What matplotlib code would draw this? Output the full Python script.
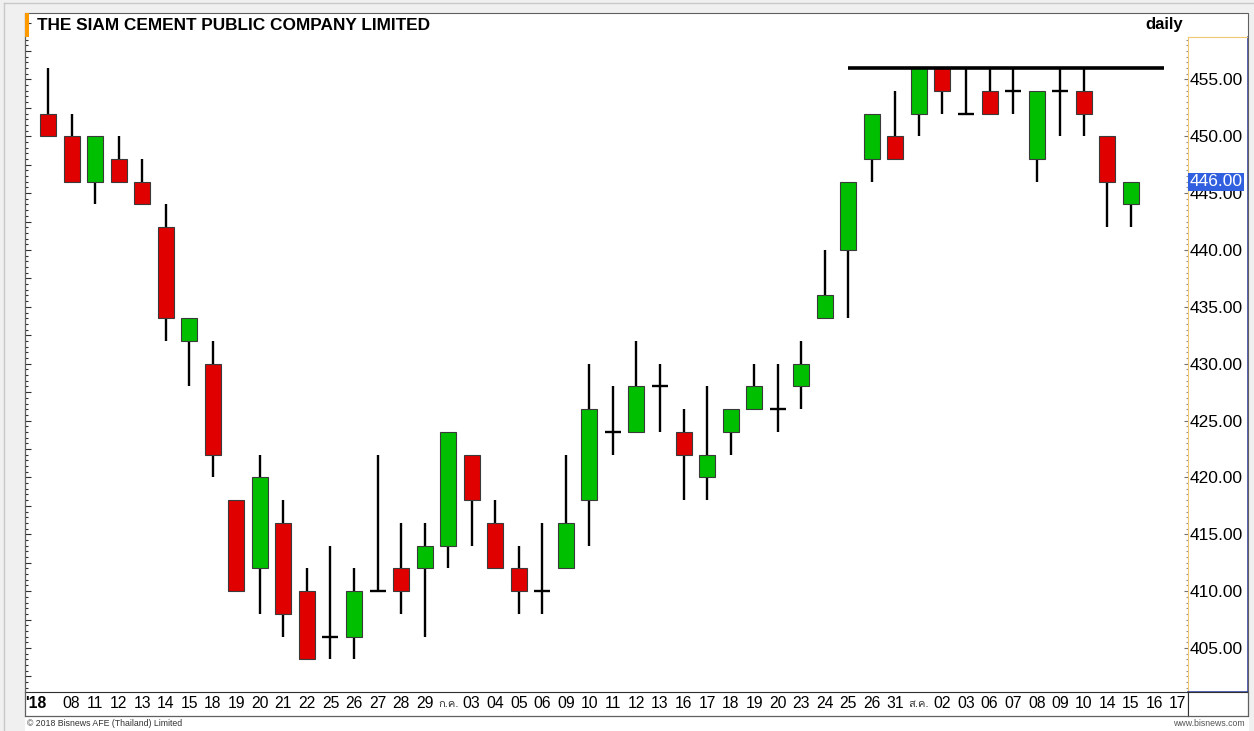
import numpy as np
import matplotlib
matplotlib.use("Agg")
import matplotlib.pyplot as plt
from matplotlib import font_manager
from matplotlib.ft2font import FT2Font
from matplotlib.patches import Rectangle
from matplotlib.lines import Line2D
from matplotlib.ticker import MultipleLocator
from matplotlib.transforms import ScaledTranslation

plt.rcParams['font.family'] = ['Liberation Sans', 'DejaVu Sans']

# daily candles, SCC, Jun - Aug 2018
dates = ["'18", "08", "11", "12", "13", "14", "15", "18", "19", "20", "21", "22",
         "25", "26", "27", "28", "29", "ก.ค.", "03", "04", "05", "06", "09", "10",
         "11", "12", "13", "16", "17", "18", "19", "20", "23", "24", "25", "26",
         "31", "ส.ค.", "02", "03", "06", "07", "08", "09", "10", "14", "15", "16", "17"]
opens = [452, 450, 446, 448, 446, 442, 432, 430, 418, 412, 416, 410,
         406, 406, 410, 412, 412, 414, 422, 416, 412, 410, 412, 418,
         424, 424, 428, 424, 420, 424, 426, 426, 428, 434, 440, 448,
         450, 452, 456, 452, 454, 454, 448, 454, 454, 450, 444]
highs = [456, 452, 450, 450, 448, 444, 434, 432, 418, 422, 418, 412,
         414, 412, 422, 416, 416, 424, 422, 418, 414, 416, 422, 430,
         428, 432, 430, 426, 428, 426, 430, 430, 432, 440, 446, 452,
         454, 456, 456, 456, 456, 456, 454, 456, 456, 450, 446]
lows = [450, 446, 444, 446, 444, 432, 428, 420, 410, 408, 406, 404,
        404, 404, 410, 408, 406, 412, 414, 412, 408, 408, 412, 414,
        422, 424, 424, 418, 418, 422, 426, 424, 426, 434, 434, 446,
        448, 450, 452, 452, 452, 452, 446, 450, 450, 442, 442]
closes = [450, 446, 450, 446, 444, 434, 434, 422, 410, 420, 408, 404,
          406, 410, 410, 410, 414, 424, 418, 412, 410, 410, 416, 426,
          424, 428, 428, 422, 422, 426, 428, 426, 430, 436, 446, 452,
          448, 456, 454, 452, 452, 454, 454, 454, 452, 446, 446]
resistance = 456
res_start, res_end = 34, 47.4
last_price = 446.00

W, H = 1254, 731
fig = plt.figure(figsize=(W / 100, H / 100), dpi=100, facecolor='white')


def box(x0, y0, x1, y1):
    return [x0 / W, 1 - y1 / H, (x1 - x0) / W, (y1 - y0) / H]


def fx(x):
    return x / W


def fy(y):
    return 1 - y / H


# background strips of the window
for r in [(0, 0, 25, H), (0, 0, W, 13), (1249, 0, W, H)]:
    fig.add_artist(Rectangle((fx(r[0]), fy(r[3])), fx(r[2] - r[0]), (r[3] - r[1]) / H,
                             transform=fig.transFigure, facecolor='#f0f0f0',
                             edgecolor='none', zorder=0))
fig.add_artist(Line2D([fx(4), fx(4)], [0, fy(3)], transform=fig.transFigure, color='#c8c8c8', lw=1))
fig.add_artist(Line2D([fx(4), 1], [fy(3), fy(3)], transform=fig.transFigure, color='#c8c8c8', lw=1))

xlim = (-0.977, 48.43)
ax = fig.add_axes(box(25, 13, 1188, 692))
ax.set_xlim(*xlim)
ax.set_ylim(401.13, 460.84)

x = np.arange(len(opens))
bw = 0.68
for i in x:
    o, h, l, c = opens[i], highs[i], lows[i], closes[i]
    ax.plot([i, i], [l, h], color='black', lw=1.7, solid_capstyle='butt', zorder=2)
    if o == c:
        ax.plot([i - bw / 2, i + bw / 2], [o, o], color='black', lw=1.7,
                solid_capstyle='butt', zorder=3)
    else:
        col = '#00bf00' if c > o else '#e00000'
        ax.add_patch(Rectangle((i - bw / 2, min(o, c)), bw, abs(c - o), facecolor=col,
                               edgecolor='#3a3a3a', lw=0.8, zorder=3))

ax.plot([res_start, res_end], [resistance, resistance], color='black', lw=2.6,
        solid_capstyle='butt', zorder=4)

for s in ['top', 'right', 'bottom']:
    ax.spines[s].set_visible(False)
ax.spines['left'].set_color('#303030')
ax.spines['left'].set_linewidth(0.8)
ax.yaxis.set_major_locator(MultipleLocator(2.5))
ax.yaxis.set_minor_locator(MultipleLocator(0.5))
ax.tick_params(axis='y', which='major', direction='in', length=4, width=0.8,
               color='#303030', labelleft=False)
ax.tick_params(axis='y', which='minor', direction='in', length=2, width=0.8, color='#303030')
ax.set_xticks(x)
ax.tick_params(axis='x', which='major', direction='in', length=0, labelbottom=False)

ax.text((37 - 25) / (1188 - 25), 1 - (25 - 13) / (692 - 13), 'THE SIAM CEMENT PUBLIC COMPANY LIMITED',
        transform=ax.transAxes, fontsize=12.4, fontweight='bold', ha='left', va='center')
fig.text(fx(1183), fy(25), 'daily', fontsize=12, fontweight='bold', ha='right', va='center')

# right price panel
axr = fig.add_axes(box(1188, 37, 1248, 692))
axr.set_ylim(401.13, 458.73)
axr.set_xlim(0, 1)
axr.set_xticks([])
axr.yaxis.set_major_locator(MultipleLocator(5))
axr.yaxis.set_minor_locator(MultipleLocator(0.5))
axr.yaxis.set_major_formatter('{x:.2f}')
axr.tick_params(axis='y', which='major', left=True, right=False, direction='out',
                length=3, width=0.8, color='#707070', labelleft=False, labelright=True,
                pad=-45, labelsize=12.5)
axr.tick_params(axis='y', which='minor', left=True, right=False, direction='out',
                length=1.5, width=0.8, color='#909090')
for s in ['left', 'top']:
    axr.spines[s].set_color('#f0c870')
for s in ['right', 'bottom']:
    axr.spines[s].set_color('#3848a8')
    axr.spines[s].set_linewidth(1.2)
axr.text(0.02, last_price, f'{last_price:.2f}', transform=axr.get_yaxis_transform(),
         fontsize=12.5, color='white', ha='left', va='center', zorder=5,
         bbox=dict(boxstyle='square,pad=0.08', facecolor='#3060e0', edgecolor='none'))

# thai font for month labels
thai_family = None
for f in font_manager.fontManager.ttflist:
    try:
        if 0x0E01 in FT2Font(f.fname).get_charmap():
            thai_family = f.name
            break
    except Exception:
        pass

# date band
axb = fig.add_axes(box(25, 692, 1188, 716))
axb.set_xlim(*xlim)
axb.set_yticks([])
axb.set_xticks(np.arange(len(dates)))
axb.set_xticklabels(dates)
axb.tick_params(axis='x', length=0, pad=-14.5, labelsize=11.3)
for s in axb.spines.values():
    s.set_color('#303030')
    s.set_linewidth(0.8)
for i, t in enumerate(axb.get_xticklabels()):
    txt = dates[i]
    if txt == "'18":
        t.set_fontweight('bold')
        t.set_ha('left')
        t.set_transform(t.get_transform() + ScaledTranslation(-0.225, 0, fig.dpi_scale_trans))
    elif not txt.isdigit():
        t.set_fontsize(8)
        t.set_color('#303030')
        t.set_transform(t.get_transform() + ScaledTranslation(0, -0.03, fig.dpi_scale_trans))
        if thai_family:
            t.set_family([thai_family, 'DejaVu Sans'])

# empty corner box
axc = fig.add_axes(box(1188, 692, 1248, 716))
axc.set_xticks([])
axc.set_yticks([])
for s in axc.spines.values():
    s.set_color('#303030')
    s.set_linewidth(0.8)

# outer frame and orange marker
fig.add_artist(Rectangle((fx(25), fy(716)), fx(1248 - 25), (716 - 13) / H, transform=fig.transFigure,
                         facecolor='none', edgecolor='#606060', lw=0.8, zorder=10))
fig.add_artist(Rectangle((fx(25), fy(37)), fx(3.5), 24 / H, transform=fig.transFigure,
                         facecolor='#ff9900', edgecolor='none', zorder=11))

fig.text(fx(27), fy(723), '© 2018 Bisnews AFE (Thailand) Limited', fontsize=6.3,
         color='#333333', ha='left', va='center')
fig.text(fx(1245), fy(723), 'www.bisnews.com', fontsize=6.3, color='#555555',
         ha='right', va='center')

fig.savefig('out.png', dpi=100, facecolor='white')
